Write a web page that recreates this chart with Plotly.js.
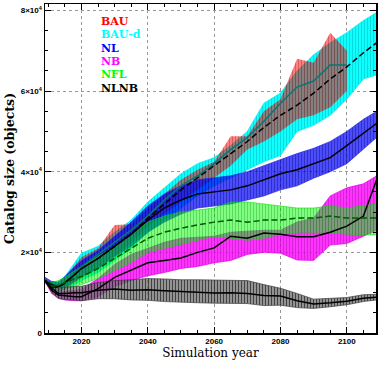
<!DOCTYPE html>
<html>
<head>
<meta charset="utf-8">
<script src="https://cdn.plot.ly/plotly-3.0.1.min.js"></script>
<style>
  body { margin: 0; background: #fff; }
  #chart { width: 381px; height: 365px; }
</style>
</head>
<body>
<div id="chart"></div>
<script>
// Simulation years (BAU stops at 2100)
const years = [2009, 2011, 2013, 2015, 2018, 2020, 2025, 2030, 2035, 2040, 2045, 2050,
               2055, 2060, 2065, 2070, 2075, 2080, 2085, 2090, 2095, 2100, 2105, 2109];
const bauYears = years.slice(0, 22);

// BAU (red band, teal mean)
const bauMean = [13000, 11600, 11400, 12500, 15000, 16500, 19500, 22500, 25500, 29000, 33000, 36500,
                 39000, 42000, 45500, 48500, 52500, 57000, 61000, 62500, 66500, 66500];
const bauHigh = [13200, 12300, 12300, 13600, 16800, 18800, 21000, 26800, 27000, 31000, 34500, 38000,
                 40500, 42500, 48800, 48800, 55000, 58000, 68000, 67000, 74500, 70000];
const bauLow  = [12800, 10700, 10400, 11000, 12500, 13600, 16000, 19000, 22500, 26500, 29500, 32500,
                 35500, 38500, 41500, 45500, 47500, 50000, 53000, 54000, 56000, 60000];

// BAU-d (cyan band, black dashed mean)
const baudMean = [13000, 11500, 11300, 12300, 14500, 16000, 18500, 21500, 24500, 28500, 32000, 35500,
                  38500, 41500, 44500, 47500, 51000, 54000, 56500, 59500, 63000, 66000, 69500, 72000];
const baudHigh = [13200, 12500, 12600, 14000, 17500, 19800, 21500, 25000, 28000, 32500, 36000, 39500,
                  42000, 43500, 46500, 50000, 57000, 59500, 65000, 69000, 72000, 74500, 77500, 79500];
const baudLow  = [12800, 10500, 10200, 10800, 12000, 13000, 15000, 18000, 21000, 25000, 28000, 31000,
                  34000, 36500, 38500, 40400, 42500, 44000, 50000, 51500, 54000, 58000, 63000, 64000];

// NL (blue band)
const nlMean = [13000, 12000, 11500, 12500, 14500, 16000, 18500, 21500, 24500, 28000, 31000, 33000,
                34500, 35000, 35500, 36500, 38000, 39500, 40500, 42000, 43500, 46500, 49500, 52000];
const nlHigh = [13800, 12800, 12600, 14000, 16500, 18000, 20500, 24000, 27500, 31500, 34500, 36500,
                38000, 38500, 39000, 40000, 41500, 43000, 44500, 45800, 47500, 50000, 53000, 55000];
const nlLow  = [12500, 11000, 10500, 11200, 12800, 14000, 16000, 19000, 21500, 25000, 27500, 29500,
                31000, 31500, 32000, 33000, 34000, 35500, 36500, 38400, 40000, 42000, 45500, 48500];

// NB (magenta band)
const nbMean = [13000, 10600, 9400, 9200, 9000, 9000, 11000, 13800, 15500, 17400, 18000, 18600,
                20000, 21100, 24000, 23500, 24800, 24500, 23900, 23900, 25000, 26500, 29000, 38000];
const nbHigh = [13200, 11300, 10300, 10400, 10500, 10800, 13500, 17000, 19500, 21000, 22500, 23500,
                23800, 24000, 25000, 25300, 25500, 25500, 27500, 28500, 34000, 36000, 37000, 39000];
const nbLow  = [12800, 9800, 8600, 8200, 8000, 8000, 9000, 11500, 13000, 14200, 15000, 16000,
                16500, 17400, 18000, 19500, 20000, 19800, 18100, 18000, 21800, 22200, 24000, 25500];

// NFL (green band, dark green dashed mean)
const nflMean = [13000, 11600, 11800, 12500, 13500, 14000, 16000, 18500, 21000, 23500, 25000, 26000,
                 26800, 27500, 28000, 27500, 28000, 28000, 28500, 28500, 29000, 28500, 28500, 28500];
const nflHigh = [13200, 12400, 13000, 13800, 15500, 16500, 19000, 21500, 24500, 27500, 29000, 30000,
                 30500, 31000, 32500, 32500, 32000, 31500, 31000, 31000, 31500, 31000, 31500, 32000];
const nflLow  = [12800, 10800, 10600, 11000, 11500, 12000, 13500, 15500, 17500, 20000, 21000, 22000,
                 23000, 24000, 23500, 23000, 23500, 24500, 25000, 25000, 25000, 24500, 24300, 24300];

// NLNB (grey band)
const nlnbMean = [13000, 11200, 9800, 9800, 10000, 10000, 10600, 10900, 10600, 10700, 10500, 10300,
                  10200, 9900, 10000, 9800, 9300, 9200, 8000, 7200, 7500, 7900, 8600, 8900];
const nlnbHigh = [13200, 12200, 11200, 11400, 11600, 11600, 12500, 13000, 13200, 13500, 13400, 13200,
                  13200, 13100, 13000, 13000, 12000, 11100, 9800, 8400, 8600, 8800, 9500, 9600];
const nlnbLow  = [12800, 10200, 8600, 8300, 8200, 8000, 8500, 8500, 8200, 8100, 7800, 7600,
                  7500, 7400, 7400, 7300, 6800, 6900, 6300, 6100, 6500, 7000, 7800, 8200];

const legendNames = ["BAU", "BAU-d", "NL", "NB", "NFL", "NLNB"];
const legendColors = ["#ff0000", "#00ffff", "#0000ff", "#ff00ff", "#00ff00", "#000000"];

function band(x, low, high, edge, edgeWidth, bg, fg) {
    const lower = {
        x: x, y: low, mode: "lines", hoverinfo: "skip",
        line: { color: edge, width: edgeWidth }
    };
    const upper = {
        x: x, y: high, mode: "lines", hoverinfo: "skip",
        fill: "tonexty",
        fillpattern: { shape: "|", size: 3, solidity: 0.35, bgcolor: bg, fgcolor: fg },
        line: { color: edge, width: edgeWidth }
    };
    return [lower, upper];
}

function meanLine(x, y, color, dash) {
    return {
        x: x, y: y, mode: "lines", hoverinfo: "skip",
        line: { color: color, width: 1.5, dash: dash || "solid" }
    };
}

var data = [].concat(
    band(years, baudLow, baudHigh, "rgb(0,235,235)", 0.7, "rgba(0,255,255,0.95)", "rgba(0,150,150,0.35)"),
    band(bauYears, bauLow, bauHigh, "rgba(255,0,0,0)", 0, "rgba(255,0,0,0.5)", "rgba(90,0,0,0.25)"),
    band(years, nlLow, nlHigh, "rgb(40,40,230)", 0.7, "rgba(0,0,255,0.7)", "rgba(0,0,90,0.35)"),
    band(years, nbLow, nbHigh, "rgb(230,0,230)", 0.7, "rgba(255,0,255,0.8)", "rgba(120,0,120,0.3)"),
    band(years, nflLow, nflHigh, "rgba(0,220,0,0.8)", 0.7, "rgba(0,255,0,0.5)", "rgba(0,90,0,0.25)"),
    band(years, nlnbLow, nlnbHigh, "rgb(60,60,60)", 0.7, "rgba(110,110,110,0.75)", "rgba(0,0,0,0.55)"),
    [
        meanLine(bauYears, bauMean, "rgb(0,120,120)"),
        meanLine(years, baudMean, "#000000", "6px,3px"),
        meanLine(years, nlMean, "#000000"),
        meanLine(years, nbMean, "#000000"),
        meanLine(years, nflMean, "rgb(0,90,0)", "6px,3px"),
        meanLine(years, nlnbMean, "#000000")
    ]
);

const legendTop = 0.947, legendStep = 0.0405;
var annotations = legendNames.map(function (name, i) {
    return {
        text: name, xref: "paper", yref: "paper",
        x: 0.163, y: legendTop - i * legendStep,
        xanchor: "left", yanchor: "middle", showarrow: false,
        font: { family: "DejaVu Serif", size: 11, weight: "bold", color: legendColors[i] }
    };
});

const axisFont = { family: "Liberation Sans", size: 8, weight: "bold", color: "#000" };

var layout = {
    width: 381,
    height: 365,
    margin: { l: 45, r: 5, t: 4, b: 32 },
    paper_bgcolor: "#fff",
    plot_bgcolor: "#fff",
    showlegend: false,
    annotations: annotations,
    xaxis: {
        range: [2009, 2108.8],
        tickmode: "linear", tick0: 2000, dtick: 20,
        ticks: "inside", ticklen: 6, tickwidth: 1, tickcolor: "#000",
        minor: { tickmode: "linear", tick0: 2000, dtick: 5, ticks: "inside", ticklen: 3, tickcolor: "#000" },
        showline: true, linecolor: "#000", linewidth: 1.5, mirror: "ticks",
        showgrid: true, gridcolor: "#999", griddash: "dot", gridwidth: 1,
        zeroline: false,
        tickfont: axisFont,
        title: { text: "Simulation year", standoff: 2,
                 font: { family: "DejaVu Serif", size: 12, color: "#000" } }
    },
    yaxis: {
        range: [0, 81600],
        tickmode: "linear", tick0: 0, dtick: 20000,
        exponentformat: "power", showexponent: "all",
        ticks: "inside", ticklen: 6, tickwidth: 1, tickcolor: "#000",
        minor: { tickmode: "linear", tick0: 0, dtick: 5000, ticks: "inside", ticklen: 3, tickcolor: "#000" },
        showline: true, linecolor: "#000", linewidth: 1.5, mirror: "ticks",
        showgrid: true, gridcolor: "#999", griddash: "dot", gridwidth: 1,
        zeroline: false,
        tickfont: axisFont,
        title: { text: "Catalog size (objects)", standoff: 3,
                 font: { family: "DejaVu Serif", size: 12.5, weight: "bold", color: "#000" } }
    }
};

Plotly.newPlot("chart", data, layout, { displayModeBar: false, staticPlot: true });
</script>
</body>
</html>
